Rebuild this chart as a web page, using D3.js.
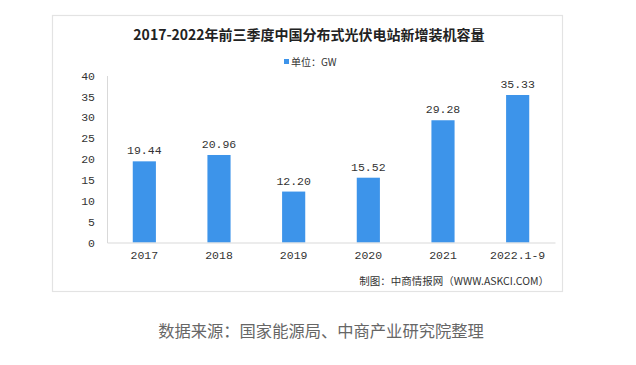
<!DOCTYPE html>
<html><head><meta charset="utf-8">
<script src="https://cdn.jsdelivr.net/npm/d3@7"></script>
<style>body{margin:0;background:#fff}svg{display:block}</style>
</head><body>
<script>
const categories = ["2017","2018","2019","2020","2021","2022.1-9"];
const values = [19.44, 20.96, 12.20, 15.52, 29.28, 35.33];
const yTicks = [0,5,10,15,20,25,30,35,40];
const title = "2017-2022年前三季度中国分布式光伏电站新增装机容量";
const legendLabel = "单位：GW";
const credit = "制图：中商情报网（WWW.ASKCI.COM）";
const source = "数据来源：国家能源局、中商产业研究院整理";

const W = 636, H = 365;
const svg = d3.select("body").append("svg").attr("width", W).attr("height", H);
const numFont = "'Liberation Mono','DejaVu Sans Mono',monospace";
const cjk = "'Noto Sans CJK SC','Noto Sans',sans-serif";

svg.append("rect").attr("x",52.5).attr("y",15.5).attr("width",510).attr("height",276)
  .attr("fill","#fff").attr("stroke","#e3e3e3").attr("stroke-width",1.2);

svg.append("text").attr("x",309).attr("y",40).attr("text-anchor","middle")
  .attr("font-family",cjk).attr("font-weight","bold").attr("font-size",14).attr("fill","#222").text(title);

const lg = svg.append("g");
lg.append("rect").attr("x",284).attr("y",59).attr("width",5).attr("height",5).attr("fill","#3d94ea");
lg.append("text").attr("x",291).attr("y",65.5).attr("font-family",cjk).attr("font-size",10).attr("fill","#333").text(legendLabel);

const x = d3.scaleBand().domain(categories).range([107,555]).paddingInner(0.69).paddingOuter(0.345);
const y = d3.scaleLinear().domain([0,40]).range([242.5,75.5]);

const yAxis = svg.append("g").attr("transform","translate(107,0)")
  .call(d3.axisLeft(y).tickValues(yTicks).tickSize(0).tickPadding(12));
yAxis.select(".domain").attr("stroke","#d9d9d9");
yAxis.selectAll("text").attr("font-family",numFont).attr("font-size",11.5).attr("fill","#333").attr("text-anchor","end");

svg.selectAll(".bar").data(values).join("rect").attr("class","bar")
  .attr("x",(d,i)=>x(categories[i])).attr("width",x.bandwidth())
  .attr("y",d=>y(d)).attr("height",d=>y(0)-y(d)).attr("fill","#3d94ea");

const xAxis = svg.append("g").attr("transform","translate(0,242.5)")
  .call(d3.axisBottom(x).tickSize(0).tickPadding(8));
xAxis.select(".domain").attr("stroke","#d9d9d9");
xAxis.selectAll("text").attr("font-family",numFont).attr("font-size",11.5).attr("fill","#333");

svg.selectAll(".vl").data(values).join("text").attr("class","vl")
  .attr("x",(d,i)=>x(categories[i])+x.bandwidth()/2).attr("y",d=>y(d)-7)
  .attr("text-anchor","middle").attr("font-family",numFont).attr("font-size",11.5).attr("fill","#333")
  .text(d=>d.toFixed(2));

svg.append("text").attr("x",549).attr("y",285).attr("text-anchor","end")
  .attr("font-family",cjk).attr("font-size",10.5).attr("fill","#333").text(credit);

svg.append("text").attr("x",321).attr("y",337).attr("text-anchor","middle")
  .attr("font-family",cjk).attr("font-size",16.3).attr("fill","#666").text(source);
</script>
</body></html>
